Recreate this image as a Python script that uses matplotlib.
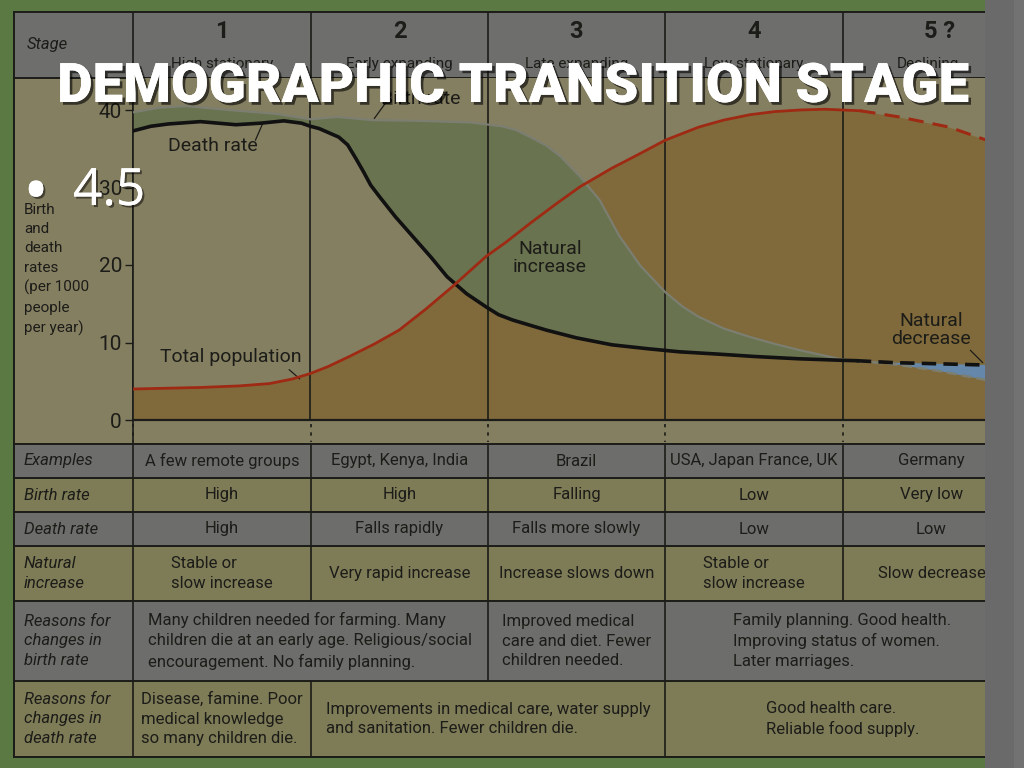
import numpy as np
import matplotlib.pyplot as plt
from matplotlib import font_manager
from matplotlib.patches import Rectangle
import matplotlib.patheffects as pe

# ---- values (x in stages, y in rate per 1000) ----
stage_numbers = ['1', '2', '3', '4', '5 ?']
stage_names = ['High stationary', 'Early expanding', 'Late expanding',
               'Low stationary', 'Declining']
rate_ticks = [0, 10, 20, 30, 40]

birth_x = [0.00, 0.15, 0.30, 0.59, 0.81, 1.00, 1.15, 1.35, 1.62, 1.90, 2.08,
           2.16, 2.24, 2.33, 2.41, 2.52, 2.63, 2.74, 2.86, 3.00, 3.10, 3.19,
           3.33, 3.48, 3.62, 3.76, 3.90, 4.00]
birth_y = [39.7, 40.3, 40.5, 39.9, 39.5, 38.8, 39.1, 38.7, 38.6, 38.4, 37.9,
           37.4, 36.5, 35.4, 34.0, 31.4, 28.4, 23.8, 19.9, 16.5, 14.6, 13.3,
           11.8, 10.7, 9.8, 9.0, 8.3, 7.8]

death_x = [0.00, 0.10, 0.20, 0.38, 0.58, 0.72, 0.85, 0.95, 1.00, 1.05, 1.10,
           1.16, 1.21, 1.26, 1.30, 1.34, 1.39, 1.48, 1.58, 1.68, 1.77, 1.88,
           1.99, 2.06, 2.14, 2.33, 2.50, 2.70, 2.90, 3.08, 3.30, 3.50, 3.75,
           4.00, 4.08]
death_y = [37.3, 37.9, 38.2, 38.5, 38.1, 38.3, 38.6, 38.3, 37.9, 37.6, 37.1,
           36.5, 35.5, 33.6, 32.0, 30.3, 28.8, 26.2, 23.6, 21.0, 18.5, 16.3,
           14.6, 13.6, 12.9, 11.6, 10.6, 9.7, 9.2, 8.8, 8.5, 8.2, 7.9,
           7.7, 7.65]

pop_x = [0.00, 0.38, 0.60, 0.77, 0.90, 1.00, 1.10, 1.22, 1.36, 1.50, 1.65,
         1.80, 1.99, 2.10, 2.24, 2.38, 2.52, 2.70, 2.86, 3.00, 3.10, 3.19,
         3.33, 3.48, 3.62, 3.76, 3.90, 4.00, 4.10]
pop_y = [4.0, 4.2, 4.4, 4.7, 5.3, 6.0, 6.9, 8.2, 9.8, 11.6, 14.3,
         17.2, 21.1, 22.9, 25.4, 27.8, 30.1, 32.5, 34.4, 36.1, 37.0, 37.8,
         38.7, 39.4, 39.8, 40.0, 40.1, 40.0, 39.9]

# stage 5 projections (dashed)
pop5_x = [4.10, 4.32, 4.60, 4.85]
pop5_y = [39.9, 39.1, 37.8, 35.8]
birth5_x = [4.00, 4.29, 4.55, 4.80, 4.85]
birth5_y = [7.8, 7.2, 6.3, 5.2, 5.0]
death5_x = [4.08, 4.29, 4.80, 4.85]
death5_y = [7.65, 7.4, 7.1, 7.05]

# ---- table text ----
row_labels = ['Examples', 'Birth rate', 'Death rate', 'Natural\nincrease',
              'Reasons for\nchanges in\nbirth rate',
              'Reasons for\nchanges in\ndeath rate']
examples = ['A few remote groups', 'Egypt, Kenya, India', 'Brazil',
            'USA, Japan France, UK', 'Germany']
birth_rate_row = ['High', 'High', 'Falling', 'Low', 'Very low']
death_rate_row = ['High', 'Falls rapidly', 'Falls more slowly', 'Low', 'Low']
natural_row = ['Stable or\nslow increase', 'Very rapid increase',
               'Increase slows down', 'Stable or\nslow increase',
               'Slow decrease']
birth_reasons = ['Many children needed for farming. Many\nchildren die at an '
                 'early age. Religious/social\nencouragement. No family planning.',
                 'Improved medical\ncare and diet. Fewer\nchildren needed.',
                 'Family planning. Good health.\nImproving status of women.\n'
                 'Later marriages.']
birth_reason_spans = [(0, 2), (2, 3), (3, 5)]
death_reasons = ['Disease, famine. Poor\nmedical knowledge\nso many children die.',
                 'Improvements in medical care, water supply\n'
                 'and sanitation. Fewer children die.',
                 'Good health care.\nReliable food supply.']
death_reason_spans = [(0, 1), (1, 3), (3, 5)]

# ---- layout (pixels) ----
stage_px = [133, 311, 488, 665, 843, 1020]
row_px = [444, 478, 512, 546, 601, 681, 757]
chart_top, chart_bottom = 78, 420
px_per_unit = 7.75

green_border = '#5b7a43'
header_gray = '#6e6e6c'
tan = '#857f62'
olive = '#7e7b57'
row_gray = '#6d6d6b'
fill_green = '#69734f'
fill_orange = '#806a3b'
fill_blue = '#6487aa'
dark = '#1c1c18'
red = '#9e2a14'
birth_col = '#7b7e70'

available = {f.name for f in font_manager.fontManager.ttflist}


def pick(*names):
    for n in names:
        if n in available:
            return n
    return 'DejaVu Sans'


narrow = pick('Liberation Sans Narrow', 'Roboto', 'DejaVu Sans')
title_font = pick('Roboto', 'Liberation Sans Narrow', 'DejaVu Sans')
slide_font = pick('Open Sans', 'Lato', 'DejaVu Sans')

fig = plt.figure(figsize=(10.24, 7.68), dpi=100)
fig.patch.set_facecolor(green_border)

base = fig.add_axes([0, 0, 1, 1])
base.set_xlim(0, 1024)
base.set_ylim(768, 0)
base.axis('off')

# header and backgrounds
base.add_patch(Rectangle((14, 12), 1006, chart_top - 12, fc=header_gray, ec='none'))
base.add_patch(Rectangle((14, chart_top), 1006, row_px[0] - chart_top, fc=tan, ec='none'))
for i in range(len(row_labels)):
    base.add_patch(Rectangle((14, row_px[i]), 1006, row_px[i + 1] - row_px[i],
                             fc=row_gray if i % 2 == 0 else olive, ec='none'))

# grid lines
for y in [12, chart_top] + row_px:
    base.plot([14, 1020], [y, y], color=dark, lw=1.4)
base.plot([14, 14], [12, row_px[-1]], color=dark, lw=1.4)
base.plot([133, 133], [12, row_px[-1]], color=dark, lw=1.2)
for x in stage_px[1:5]:
    base.plot([x, x], [12, chart_top], color=dark, lw=1.2)
vertical_rows = {311: [0, 1, 2, 3, 5], 488: [0, 1, 2, 3, 4],
                 665: [0, 1, 2, 3, 4, 5], 843: [0, 1, 2, 3]}
for x, rows in vertical_rows.items():
    for r in rows:
        base.plot([x, x], [row_px[r], row_px[r + 1]], color=dark, lw=1.2)
for x in stage_px[:5]:
    base.plot([x, x], [chart_bottom + 4, row_px[0] - 2], color=dark, lw=1.2,
              ls=(0, (2, 3)))

# header text
base.text(27, 45, 'Stage', ha='left', va='center', fontsize=12, style='italic',
          family=narrow, color=dark)
for i, (num, name) in enumerate(zip(stage_numbers, stage_names)):
    cx = (stage_px[i] + stage_px[i + 1]) / 2
    if i == 4:
        cx = 940
    base.text(cx, 32, num, ha='center', va='center', fontsize=17,
              fontweight='bold', family=narrow, color=dark)
    base.text(cx if i < 4 else 928, 64, name, ha='center', va='center',
              fontsize=11, family=narrow, color=dark)

# y label
base.text(24, 203, 'Birth\nand\ndeath\nrates\n(per 1000\npeople\nper year)',
          ha='left', va='top', fontsize=11, family=narrow, color=dark,
          linespacing=1.47)

# table text
for i, lab in enumerate(row_labels):
    base.text(24, (row_px[i] + row_px[i + 1]) / 2, lab, ha='left', va='center',
              fontsize=12, style='italic', family=narrow, color=dark,
              linespacing=1.4)


def cell(row, s0, s1, text):
    base.text((stage_px[s0] + stage_px[s1]) / 2, (row_px[row] + row_px[row + 1]) / 2,
              text, ha='center', va='center', multialignment='left',
              fontsize=12, family=narrow, color=dark, linespacing=1.4)


for r, values in enumerate([examples, birth_rate_row, death_rate_row, natural_row]):
    for s, txt in enumerate(values):
        cell(r, s, s + 1, txt)
for (s0, s1), txt in zip(birth_reason_spans, birth_reasons):
    cell(4, s0, s1, txt)
for (s0, s1), txt in zip(death_reason_spans, death_reasons):
    cell(5, s0, s1, txt)

# ---- the chart ----
ax = fig.add_axes([stage_px[0] / 1024, 1 - chart_bottom / 768,
                   (stage_px[-1] - stage_px[0]) / 1024,
                   (chart_bottom - chart_top) / 768])
ax.set_facecolor(tan)
ax.set_xlim(0, 5)
ax.set_ylim(0, (chart_bottom - chart_top) / px_per_unit)

ax.fill_between(pop_x + pop5_x, pop_y + pop5_y, 0, color=fill_orange, lw=0, zorder=1)
ax.fill(birth_x + death_x[::-1], birth_y + death_y[::-1], color=fill_green, lw=0, zorder=2)
ax.fill(birth5_x + death5_x[::-1], birth5_y + death5_y[::-1], color=fill_blue, lw=0, zorder=2)

for s in range(1, 5):
    ax.axvline(s, color=dark, lw=1.2, zorder=2.5)

ax.plot(birth_x, birth_y, color=birth_col, lw=1.6, zorder=3)
ax.plot(birth5_x, birth5_y, color=birth_col, lw=1.8, ls=(0, (4, 2)), zorder=3)
ax.plot(death_x, death_y, color='#111111', lw=2.6, zorder=4)
ax.plot(death5_x, death5_y, color='#111111', lw=2.6, ls=(0, (4, 2)), zorder=4)
ax.plot(pop_x, pop_y, color=red, lw=2.0, zorder=5)
ax.plot(pop5_x, pop5_y, color=red, lw=2.2, ls=(0, (5, 3)), zorder=5)

for sp in ['top', 'right']:
    ax.spines[sp].set_visible(False)
ax.spines['left'].set_color(dark)
ax.spines['left'].set_linewidth(1.2)
ax.spines['bottom'].set_color(dark)
ax.spines['bottom'].set_linewidth(1.6)
ax.set_xticks([])
ax.set_yticks(rate_ticks)
ax.tick_params(axis='y', length=6, width=1, color=dark, pad=2, labelsize=15,
               labelcolor=dark)
for lbl in ax.get_yticklabels():
    lbl.set_family(narrow)

lab_kw = dict(fontsize=14, family=narrow, color=dark)
line_kw = dict(arrowstyle='-', color=dark, lw=0.9, shrinkA=0, shrinkB=0)
ax.text(0.45, 35.4, 'Death rate', ha='center', va='center', zorder=6, **lab_kw)
ax.annotate('', xy=(0.73, 38.2), xytext=(0.69, 36.1), arrowprops=line_kw)
ax.text(1.62, 41.4, 'Birth rate', ha='center', va='center', **lab_kw)
ax.annotate('', xy=(1.36, 38.9), xytext=(1.43, 41.1), arrowprops=line_kw)
ax.text(0.55, 8.1, 'Total population', ha='center', va='center', **lab_kw)
ax.annotate('', xy=(0.94, 5.3), xytext=(0.88, 6.5), arrowprops=line_kw)
ax.text(2.35, 20.9, 'Natural\nincrease', ha='center', va='center',
        linespacing=1.0, **lab_kw)
ax.text(4.5, 11.6, 'Natural\ndecrease', ha='center', va='center',
        linespacing=1.0, **lab_kw)
ax.annotate('', xy=(4.79, 7.4), xytext=(4.72, 9.0), arrowprops=line_kw)

# ---- slide overlay ----
top = fig.add_axes([0, 0, 1, 1], zorder=5)
top.set_xlim(0, 1024)
top.set_ylim(768, 0)
top.axis('off')
top.add_patch(Rectangle((985, 0), 39, 768, fc='#6a6a6a', ec='none'))
top.add_patch(Rectangle((1014, 0), 10, 768, fc='#727272', ec='none'))

title = top.text(514, 102, 'DEMOGRAPHIC TRANSITION STAGE', ha='center',
                 va='baseline', color='white', fontsize=44, fontweight='heavy',
                 family=title_font,
                 path_effects=[pe.withSimplePatchShadow(offset=(2, -2),
                                                        shadow_rgbFace='black',
                                                        alpha=0.6),
                               pe.Normal()])
fig.canvas.draw()
w = title.get_window_extent().width
title.set_fontsize(44 * 912 / w)

shadow = [pe.withSimplePatchShadow(offset=(1.5, -1.5), shadow_rgbFace='black',
                                   alpha=0.5), pe.Normal()]
top.text(36, 214, '\u2022', ha='center', va='baseline', color='white',
         fontsize=50, family=slide_font, path_effects=shadow)
top.text(73, 205, '4.5', ha='left', va='baseline', color='white',
         fontsize=37, family=slide_font, path_effects=shadow)

fig.savefig('out.png', dpi=100, facecolor=fig.get_facecolor())
